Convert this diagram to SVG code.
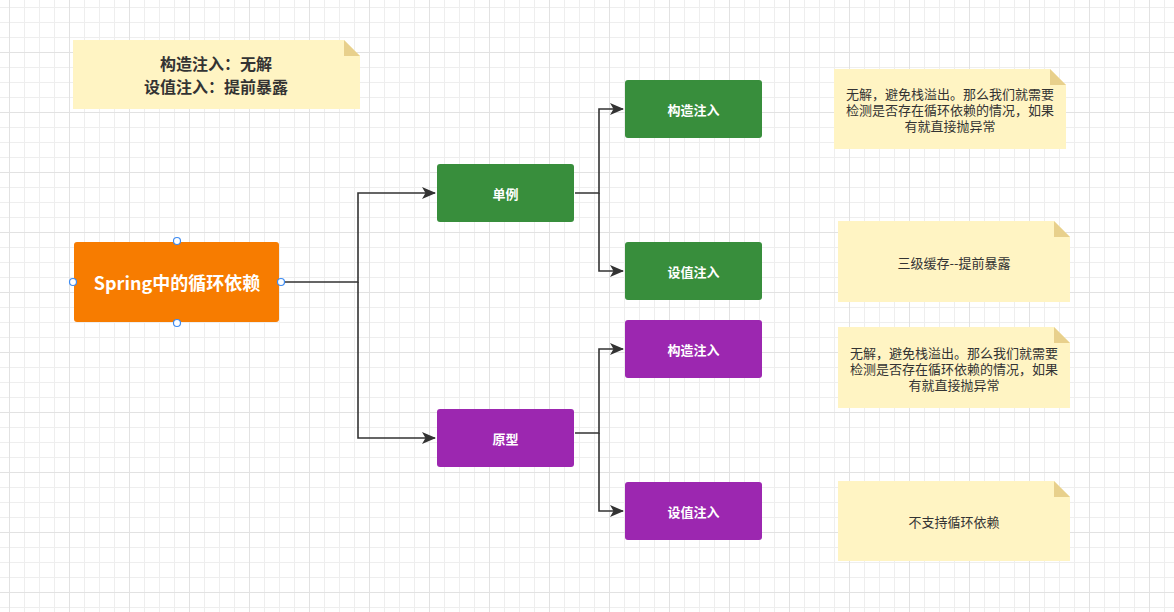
<svg xmlns="http://www.w3.org/2000/svg" width="1174" height="612" viewBox="0 0 1174 612">
<style>
.cjk{font-family:"Noto Sans CJK SC","Microsoft YaHei",sans-serif;}
.note{fill:#fff4c3;}
.fold{fill:#e8d08c;}
.nt{font-size:13px;fill:#333333;text-anchor:middle;dominant-baseline:central;}
.bt{font-size:13px;font-weight:bold;fill:#ffffff;text-anchor:middle;dominant-baseline:central;}
.green{fill:#388e3c;}
.purple{fill:#9c27b0;}
.edge{fill:none;stroke:#333333;stroke-width:1.6;}
.handle{fill:#ffffff;stroke:#3d8bf2;stroke-width:1.2;}
</style>
<defs>
<pattern id="minor" patternUnits="userSpaceOnUse" x="9" y="7" width="15" height="15">
<path d="M0 0.5H15M0.5 0V15" stroke="#eeeeee" stroke-width="1" fill="none"/>
</pattern>
<pattern id="major" patternUnits="userSpaceOnUse" x="9" y="52" width="60" height="60">
<path d="M0 0.5H60M0.5 0V60" stroke="#e2e2e2" stroke-width="1" fill="none"/>
</pattern>
<marker id="arr" markerWidth="14" markerHeight="12" viewBox="0 0 14 12" refX="13" refY="6" orient="auto" markerUnits="userSpaceOnUse">
<path d="M0 0L14 6L0 12L3.5 6Z" fill="#333333"/>
</marker>
</defs>
<rect width="1174" height="612" fill="#ffffff"/>
<rect width="1174" height="612" fill="url(#minor)"/>
<rect width="1174" height="612" fill="url(#major)"/>

<g id="connectors">
<path class="edge" d="M281 282H358V193H435" marker-end="url(#arr)"/>
<path class="edge" d="M358 282V438H435" marker-end="url(#arr)"/>
<path class="edge" d="M575 193H599V109H623" marker-end="url(#arr)"/>
<path class="edge" d="M599 193V271H623" marker-end="url(#arr)"/>
<path class="edge" d="M575 433H599V349H623" marker-end="url(#arr)"/>
<path class="edge" d="M599 433V511H623" marker-end="url(#arr)"/>
</g>

<g id="note-summary">
<path class="note" d="M73 40H344L360 56V109H73Z"/>
<path class="fold" d="M344 40V56H360Z"/>
<text class="cjk" font-size="16" font-weight="bold" fill="#333333" text-anchor="middle" dominant-baseline="central"><tspan x="216" y="63">构造注入：无解</tspan><tspan x="216" y="86">设值注入：提前暴露</tspan></text>
</g>

<g id="root">
<rect x="74" y="242" width="205" height="80" rx="3" fill="#f77c00"/>
<text class="cjk" x="177" y="282" font-size="18" font-weight="bold" fill="#ffffff" text-anchor="middle" dominant-baseline="central">Spring中的循环依赖</text>
<circle class="handle" cx="177" cy="241" r="3.5"/>
<circle class="handle" cx="73" cy="282" r="3.5"/>
<circle class="handle" cx="281" cy="282" r="3.5"/>
<circle class="handle" cx="177" cy="323" r="3.5"/>
</g>

<g id="singleton">
<rect class="green" x="437" y="164" width="137" height="58" rx="3"/>
<text class="cjk bt" x="505.5" y="193">单例</text>
</g>
<g id="prototype">
<rect class="purple" x="437" y="409" width="137" height="58" rx="3"/>
<text class="cjk bt" x="505.5" y="438">原型</text>
</g>
<g id="singleton-constructor">
<rect class="green" x="625" y="80" width="137" height="58" rx="3"/>
<text class="cjk bt" x="693.5" y="109">构造注入</text>
</g>
<g id="singleton-setter">
<rect class="green" x="625" y="242" width="137" height="58" rx="3"/>
<text class="cjk bt" x="693.5" y="271">设值注入</text>
</g>
<g id="prototype-constructor">
<rect class="purple" x="625" y="320" width="137" height="58" rx="3"/>
<text class="cjk bt" x="693.5" y="349">构造注入</text>
</g>
<g id="prototype-setter">
<rect class="purple" x="625" y="482" width="137" height="58" rx="3"/>
<text class="cjk bt" x="693.5" y="511">设值注入</text>
</g>

<g id="note-1">
<path class="note" d="M834 69H1050L1066 85V149H834Z"/>
<path class="fold" d="M1050 69V85H1066Z"/>
<text class="cjk nt"><tspan x="950" y="93">无解，避免栈溢出。那么我们就需要</tspan><tspan x="950" y="109">检测是否存在循环依赖的情况，如果</tspan><tspan x="950" y="125">有就直接抛异常</tspan></text>
</g>
<g id="note-2">
<path class="note" d="M838 221H1054L1070 237V302H838Z"/>
<path class="fold" d="M1054 221V237H1070Z"/>
<text class="cjk nt" x="954" y="262">三级缓存--提前暴露</text>
</g>
<g id="note-3">
<path class="note" d="M838 327H1054L1070 343V408H838Z"/>
<path class="fold" d="M1054 327V343H1070Z"/>
<text class="cjk nt"><tspan x="954" y="352">无解，避免栈溢出。那么我们就需要</tspan><tspan x="954" y="368">检测是否存在循环依赖的情况，如果</tspan><tspan x="954" y="384">有就直接抛异常</tspan></text>
</g>
<g id="note-4">
<path class="note" d="M838 481H1054L1070 497V561H838Z"/>
<path class="fold" d="M1054 481V497H1070Z"/>
<text class="cjk nt" x="954" y="521">不支持循环依赖</text>
</g>
</svg>
